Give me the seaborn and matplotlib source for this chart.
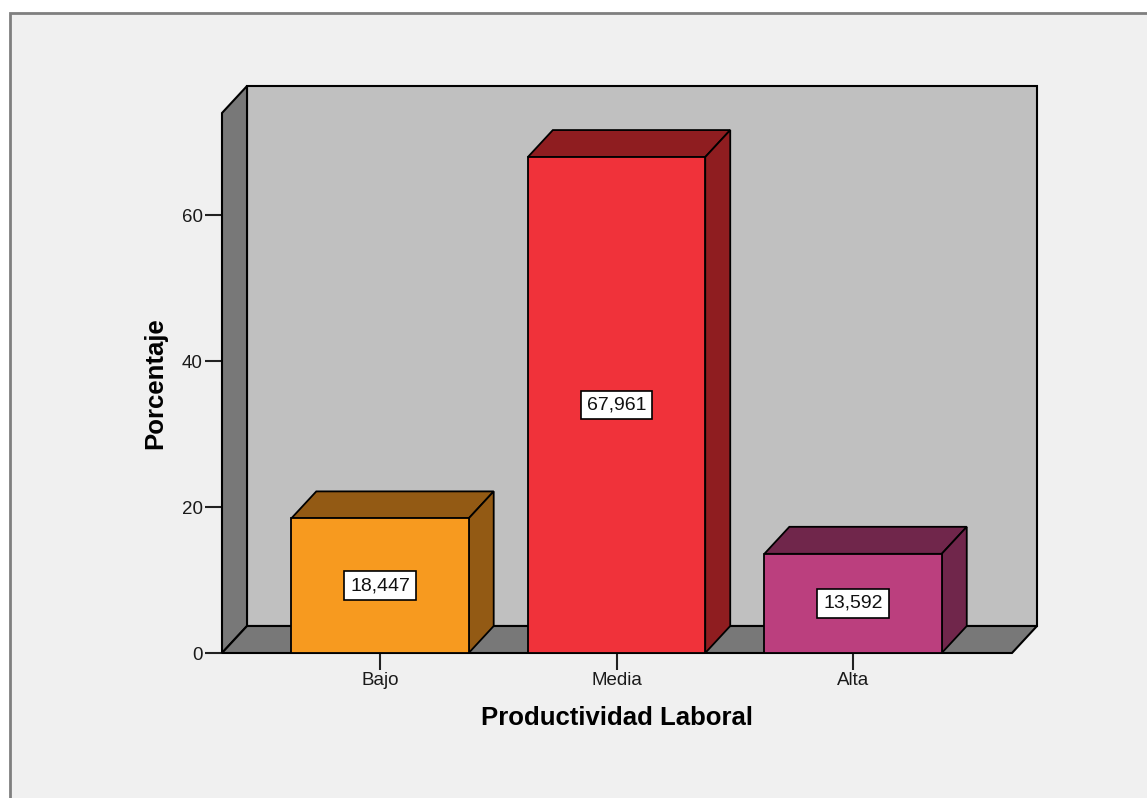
import matplotlib
matplotlib.use('Agg')
import matplotlib.pyplot as plt
import seaborn as sns
import pandas as pd
from matplotlib.patches import Polygon, Rectangle

# datos
categorias = ['Bajo', 'Media', 'Alta']
porcentajes = [18.447, 67.961, 13.592]
etiquetas = ['18,447', '67,961', '13,592']
y_ticks = [0, 20, 40, 60]

# colores (cara frontal / cara lateral-superior)
col_frente = ['#f79a1f', '#f0323a', '#bb3f7e']
col_lado = ['#935a14', '#8f1d20', '#70264b']

sns.set_style('white')
plt.rcParams['font.family'] = ['Liberation Sans', 'DejaVu Sans']

df = pd.DataFrame({'Productividad Laboral': categorias, 'Porcentaje': porcentajes})

fig = plt.figure(figsize=(11.47, 7.98), dpi=100, facecolor='white')
# marco gris de fondo
fig.patches.append(Rectangle((10 / 1147, -0.05), 1.1, 1 - 13 / 798 + 0.05,
                             transform=fig.transFigure, facecolor='#f0f0f0',
                             edgecolor='#7f7f7f', linewidth=2, zorder=-5))

ax = fig.add_axes([222 / 1147, 1 - 653 / 798, 790 / 1147, 540 / 798])
ax.set_facecolor('none')

sns.barplot(data=df, x='Productividad Laboral', y='Porcentaje', hue='Productividad Laboral',
            palette=col_frente, legend=False, width=0.75, edgecolor='black',
            linewidth=1.3, saturation=1, ax=ax, zorder=3)
barras = [b for cont in ax.containers for b in cont]

x0, x1 = -0.668, 2.672
y_top = 74
dx, dy = 0.1057, 3.7

# paredes 3D
ax.add_patch(Polygon([(x0 + dx, dy), (x1 + dx, dy), (x1 + dx, y_top + dy), (x0 + dx, y_top + dy)],
                     closed=True, facecolor='#c0c0c0', edgecolor='black', lw=1.5,
                     clip_on=False, zorder=0.5))
ax.add_patch(Polygon([(x0, 0), (x0 + dx, dy), (x0 + dx, y_top + dy), (x0, y_top)],
                     closed=True, facecolor='#787878', edgecolor='black', lw=1.5,
                     clip_on=False, zorder=0.6))
ax.add_patch(Polygon([(x0, 0), (x1, 0), (x1 + dx, dy), (x0 + dx, dy)],
                     closed=True, facecolor='#787878', edgecolor='black', lw=1.5,
                     clip_on=False, zorder=0.6))

for p, c_lado, txt in zip(barras, col_lado, etiquetas):
    xl = p.get_x()
    xr = xl + p.get_width()
    h = p.get_height()
    ax.add_patch(Polygon([(xl, h), (xl + dx, h + dy), (xr + dx, h + dy), (xr, h)],
                         closed=True, facecolor=c_lado, edgecolor='black', lw=1.3,
                         clip_on=False, zorder=2.5))
    ax.add_patch(Polygon([(xr, 0), (xr + dx, dy), (xr + dx, h + dy), (xr, h)],
                         closed=True, facecolor=c_lado, edgecolor='black', lw=1.3,
                         clip_on=False, zorder=2.5))
    ax.text(xl + p.get_width() / 2, h / 2, txt, ha='center', va='center', fontsize=14,
            color='#111111', zorder=5,
            bbox=dict(boxstyle='square,pad=0.3', facecolor='white', edgecolor='black', lw=1.2))

ax.set_xlim(x0, x1)
ax.set_ylim(0, y_top)
ax.set_yticks(y_ticks)
for s in ax.spines.values():
    s.set_visible(False)
ax.tick_params(axis='both', direction='out', length=12, width=1.5, color='#222222',
               labelsize=13.5, labelcolor='#1a1a1a', left=True, bottom=True, pad=2)

ax.set_xlabel('Productividad Laboral', fontsize=18.5, fontweight='bold', color='black')
ax.set_ylabel('Porcentaje', fontsize=18.5, fontweight='bold', color='black')
ax.xaxis.set_label_coords(0.5, -0.12)
ax.xaxis.label.set_verticalalignment('center')
ax.yaxis.set_label_coords(-0.085, 0.5)
ax.yaxis.label.set_verticalalignment('center')

plt.savefig('out.png', dpi=100, facecolor=fig.get_facecolor())
